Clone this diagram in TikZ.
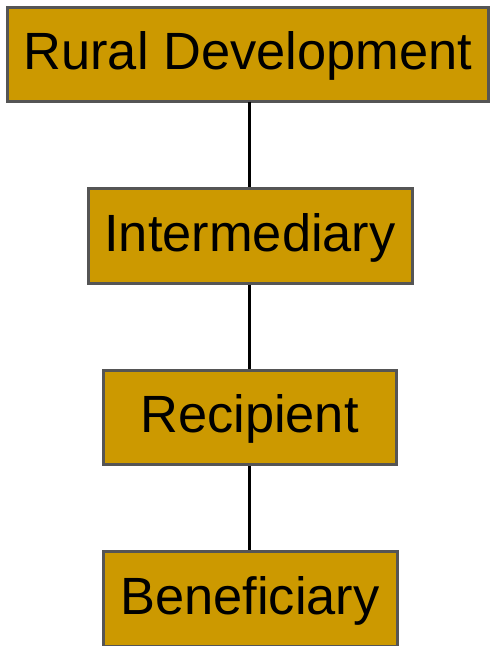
\documentclass[tikz,border=0pt]{standalone}
\usepackage{fontspec}
\setmainfont{Liberation Sans}
\definecolor{boxfill}{RGB}{204,153,0}
\definecolor{boxline}{RGB}{85,85,85}
\tikzset{
  tier/.style={draw=boxline, fill=boxfill, line width=3pt, inner sep=0pt,
    minimum height=94.5pt, text height=36.4pt, text depth=5.2pt,
    font=\fontsize{52.4}{60}\selectfont, text=black},
  link/.style={draw=black, line width=3pt}
}
\begin{document}
\begin{tikzpicture}[x=1pt, y=-1pt]
  \useasboundingbox (0,0) rectangle (490,646);
  \node[tier, minimum width=480.5pt] (rural) at (247.75,54.25) {Rural Development};
  \node[tier, minimum width=324pt] (inter) at (250,235.75) {Intermediary};
  \node[tier, minimum width=293pt] (recip) at (249.5,417.25) {Recipient};
  \node[tier, minimum width=294pt] (benef) at (250,598.75) {Beneficiary};
  \draw[link] (249.5,101.5) -- (inter.north -| 249.5,0);
  \draw[link] (inter.south -| 249.5,0) -- (recip.north -| 249.5,0);
  \draw[link] (recip.south -| 249.5,0) -- (benef.north -| 249.5,0);
\end{tikzpicture}
\end{document}
